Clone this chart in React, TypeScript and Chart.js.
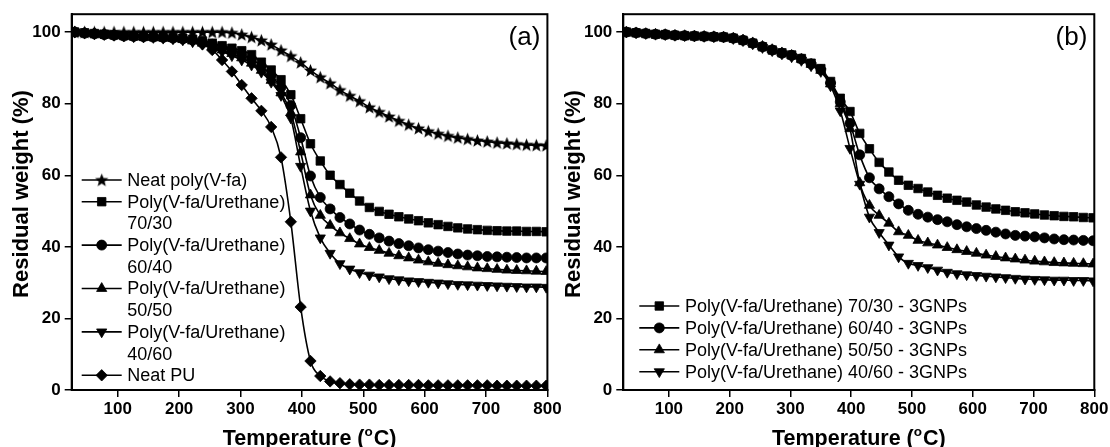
import React, { useEffect, useRef } from "react";
import { Chart, registerables } from "chart.js";
import { drawPoint } from "chart.js/helpers";

Chart.register(...registerables);

const FONT = "'Liberation Sans', Arial, Helvetica, sans-serif";

// ---------------- data ----------------
const TEMPS = [30, 46, 62, 78, 94, 110, 126, 142, 158, 174, 190, 206, 222, 238, 254, 270, 286, 302, 318, 334, 350, 366, 382, 398, 414, 430, 446, 462, 478, 494, 510, 526, 542, 558, 574, 590, 606, 622, 638, 654, 670, 686, 702, 718, 734, 750, 766, 782, 798];

const X_TICKS = [100, 200, 300, 400, 500, 600, 700, 800];
const Y_TICKS = [0, 20, 40, 60, 80, 100];
const X_MIN = 25;
const X_MAX = 800;
const Y_MIN = 0;
const Y_MAX = 105;

// panel (a)
const NEAT_VFA = [100, 100, 100, 100, 100, 100, 100, 100, 100, 100, 100, 100, 100, 100, 100, 100, 99.8, 99.3, 98.6, 97.7, 96.5, 94.9, 93.3, 91.5, 89.3, 87.4, 85.7, 83.8, 82.2, 80.7, 79.0, 77.7, 76.4, 75.2, 74.1, 73.1, 72.3, 71.6, 71.0, 70.5, 70.1, 69.7, 69.4, 69.1, 68.9, 68.7, 68.5, 68.4, 68.3];
const PVU_7030 = [100, 99.8, 99.6, 99.4, 99.2, 99.0, 98.9, 98.8, 98.7, 98.6, 98.5, 98.3, 98.0, 97.5, 96.9, 96.2, 95.5, 94.8, 93.7, 91.6, 89.4, 86.7, 82.5, 75.8, 68.8, 64.0, 60.0, 57.4, 55.0, 52.8, 51.0, 49.9, 49.1, 48.4, 47.8, 47.3, 46.7, 46.2, 45.7, 45.3, 45.0, 44.8, 44.6, 44.5, 44.4, 44.4, 44.3, 44.3, 44.2];
const PVU_6040 = [100, 99.7, 99.5, 99.3, 99.1, 98.9, 98.8, 98.7, 98.6, 98.5, 98.3, 98.1, 97.8, 97.3, 96.6, 95.8, 94.9, 93.9, 92.5, 90.5, 87.8, 84.6, 79.5, 70.5, 59.8, 53.8, 50.6, 48.2, 46.4, 44.7, 43.5, 42.5, 41.6, 40.9, 40.3, 39.7, 39.2, 38.8, 38.4, 38.0, 37.7, 37.5, 37.3, 37.2, 37.1, 37.0, 36.9, 36.9, 36.9];
const PVU_5050 = [100, 99.7, 99.5, 99.3, 99.1, 98.9, 98.7, 98.6, 98.5, 98.4, 98.2, 97.9, 97.5, 96.9, 96.0, 95.0, 94.0, 92.8, 91.3, 89.3, 86.5, 83.0, 77.5, 66.5, 54.5, 48.8, 46.0, 43.9, 42.3, 40.8, 39.8, 39.0, 38.2, 37.5, 36.9, 36.3, 35.8, 35.4, 35.0, 34.7, 34.4, 34.1, 33.9, 33.7, 33.5, 33.4, 33.3, 33.2, 33.1];
const PVU_4060 = [100, 99.7, 99.5, 99.3, 99.1, 98.9, 98.7, 98.6, 98.5, 98.3, 98.1, 97.8, 97.3, 96.6, 95.6, 94.5, 93.4, 92.2, 90.8, 88.8, 86.0, 82.3, 76.0, 62.5, 50.0, 42.5, 38.2, 35.3, 33.8, 32.8, 32.1, 31.6, 31.1, 30.8, 30.5, 30.3, 30.1, 29.9, 29.7, 29.5, 29.4, 29.3, 29.2, 29.1, 29.0, 28.9, 28.8, 28.8, 28.7];
const NEAT_PU = [100, 99.8, 99.6, 99.4, 99.2, 99.0, 98.9, 98.8, 98.7, 98.5, 98.3, 98.0, 97.6, 96.6, 95.0, 92.2, 89.0, 85.2, 81.5, 78.0, 73.5, 65.0, 47.0, 23.2, 8.1, 3.9, 2.4, 1.9, 1.6, 1.5, 1.5, 1.4, 1.4, 1.4, 1.4, 1.4, 1.3, 1.3, 1.3, 1.3, 1.3, 1.3, 1.3, 1.2, 1.2, 1.2, 1.2, 1.2, 1.2];

// panel (b)
const GNP_7030 = [100, 99.8, 99.6, 99.4, 99.3, 99.1, 99.0, 98.9, 98.8, 98.7, 98.6, 98.3, 97.7, 96.9, 95.9, 95.0, 94.2, 93.6, 92.6, 91.3, 89.8, 86.2, 81.5, 77.8, 71.7, 67.4, 63.6, 60.9, 58.6, 57.2, 56.3, 55.3, 54.4, 53.6, 53.0, 52.5, 51.7, 51.1, 50.6, 50.2, 49.8, 49.5, 49.2, 48.9, 48.7, 48.5, 48.4, 48.2, 48.1];
const GNP_6040 = [100, 99.8, 99.6, 99.4, 99.3, 99.1, 99.0, 98.9, 98.8, 98.7, 98.6, 98.3, 97.7, 96.9, 95.9, 95.0, 94.1, 93.5, 92.5, 91.1, 89.5, 85.8, 80.5, 74.5, 65.7, 59.3, 56.2, 54.0, 52.0, 50.2, 49.1, 48.3, 47.6, 47.0, 46.2, 45.6, 45.1, 44.6, 44.1, 43.6, 43.2, 43.0, 42.8, 42.5, 42.2, 42.0, 41.9, 41.8, 41.7];
const GNP_5050 = [100, 99.8, 99.6, 99.4, 99.3, 99.1, 99.0, 98.9, 98.8, 98.7, 98.6, 98.3, 97.8, 97.0, 96.0, 95.1, 94.2, 93.5, 92.4, 91.0, 89.3, 85.5, 80.0, 73.0, 57.9, 51.6, 48.8, 46.6, 44.2, 43.2, 41.8, 41.1, 40.5, 39.8, 39.2, 38.7, 38.2, 37.7, 37.3, 36.9, 36.6, 36.3, 36.0, 35.8, 35.6, 35.5, 35.4, 35.3, 35.2];
const GNP_4060 = [100, 99.8, 99.6, 99.4, 99.3, 99.1, 99.0, 98.9, 98.8, 98.7, 98.6, 98.2, 97.6, 96.7, 95.7, 94.8, 93.9, 93.1, 92.1, 90.6, 89.0, 85.0, 78.0, 67.5, 57.5, 48.3, 44.0, 40.5, 37.2, 35.4, 34.8, 34.2, 33.5, 32.9, 32.5, 32.2, 32.0, 31.8, 31.6, 31.4, 31.2, 31.0, 30.9, 30.8, 30.7, 30.7, 30.6, 30.6, 30.5];

const LABELS_A = [
  ["Neat poly(V-fa)"],
  ["Poly(V-fa/Urethane)", "70/30"],
  ["Poly(V-fa/Urethane)", "60/40"],
  ["Poly(V-fa/Urethane)", "50/50"],
  ["Poly(V-fa/Urethane)", "40/60"],
  ["Neat PU"],
];
const LABELS_B = [
  ["Poly(V-fa/Urethane) 70/30 - 3GNPs"],
  ["Poly(V-fa/Urethane) 60/40 - 3GNPs"],
  ["Poly(V-fa/Urethane) 50/50 - 3GNPs"],
  ["Poly(V-fa/Urethane) 40/60 - 3GNPs"],
];
const Y_TITLE = "Residual weight (%)";

// ---------------- styles ----------------
function makeStar(): HTMLCanvasElement {
  const c = document.createElement("canvas");
  c.width = 15;
  c.height = 15;
  const g = c.getContext("2d")!;
  g.fillStyle = "#000";
  g.beginPath();
  const R = 7, r = 3, cx = 7.5, cy = 8;
  for (let i = 0; i < 10; i++) {
    const ang = -Math.PI / 2 + (i * Math.PI) / 5;
    const rad = i % 2 === 0 ? R : r;
    const px = cx + rad * Math.cos(ang);
    const py = cy + rad * Math.sin(ang);
    if (i === 0) g.moveTo(px, py);
    else g.lineTo(px, py);
  }
  g.closePath();
  g.fill();
  return c;
}

type Marker = { style: any; radius: number; rotation: number };
const STAR = makeStar();
const M_STAR: Marker = { style: STAR, radius: 7, rotation: 0 };
const M_SQUARE: Marker = { style: "rect", radius: 6, rotation: 0 };
const M_CIRCLE: Marker = { style: "circle", radius: 5, rotation: 0 };
const M_UP: Marker = { style: "triangle", radius: 5.9, rotation: 0 };
const M_DOWN: Marker = { style: "triangle", radius: 5.9, rotation: 180 };
const M_DIAMOND: Marker = { style: "rectRot", radius: 5.7, rotation: 0 };

type PanelSpec = {
  canvasLeft: number;
  canvasW: number;
  plotLeft: number;
  plotRight: number;
  letter: string;
  series: number[][];
  labels: string[][];
  markers: Marker[];
  legendX: number;
  legendY: number;
  legendStep: number;
};

const PANEL_A: PanelSpec = {
  canvasLeft: 0,
  canvasW: 570,
  plotLeft: 71.7,
  plotRight: 547.4,
  letter: "(a)",
  series: [NEAT_VFA, PVU_7030, PVU_6040, PVU_5050, PVU_4060, NEAT_PU],
  labels: LABELS_A,
  markers: [M_STAR, M_SQUARE, M_CIRCLE, M_UP, M_DOWN, M_DIAMOND],
  legendX: 81.7,
  legendY: 180,
  legendStep: 21.7,
};

const PANEL_B: PanelSpec = {
  canvasLeft: 555,
  canvasW: 555,
  plotLeft: 68.3,
  plotRight: 539.3,
  letter: "(b)",
  series: [GNP_7030, GNP_6040, GNP_5050, GNP_4060],
  labels: LABELS_B,
  markers: [M_SQUARE, M_CIRCLE, M_UP, M_DOWN],
  legendX: 84.3,
  legendY: 306,
  legendStep: 21.9,
};

const PLOT_TOP = 12.3;
const PLOT_BOTTOM = 390;
const H = 447;

function buildConfig(spec: PanelSpec): any {
  const decor = {
    id: "decor",
    afterDraw(chart: any) {
      const { ctx, chartArea: a } = chart;
      ctx.save();
      ctx.strokeStyle = "#000";
      ctx.lineWidth = 2;
      ctx.strokeRect(a.left, a.top, a.right - a.left, a.bottom - a.top);

      ctx.fillStyle = "#000";
      ctx.font = `26px ${FONT}`;
      ctx.textAlign = "right";
      ctx.textBaseline = "middle";
      ctx.fillText(spec.letter, a.right - 7, 38);

      // y title
      ctx.save();
      ctx.translate(a.left - 49.5, 194);
      ctx.rotate(-Math.PI / 2);
      ctx.font = `bold 22px ${FONT}`;
      ctx.textAlign = "center";
      ctx.textBaseline = "middle";
      ctx.fillText(Y_TITLE, 0, 0);
      ctx.restore();

      // x title with superscript
      const big = `bold 21.5px ${FONT}`;
      const small = `bold 13.5px ${FONT}`;
      ctx.font = big;
      const p1 = "Temperature (";
      const p3 = "C)";
      const w1 = ctx.measureText(p1).width;
      const w3 = ctx.measureText(p3).width;
      ctx.font = small;
      const w2 = ctx.measureText("o").width + 1;
      let x = (a.left + a.right) / 2 - (w1 + w2 + w3) / 2;
      const y = 444.5;
      ctx.textAlign = "left";
      ctx.textBaseline = "alphabetic";
      ctx.font = big;
      ctx.fillText(p1, x, y);
      x += w1;
      ctx.font = small;
      ctx.fillText("o", x, y - 8.5);
      x += w2;
      ctx.font = big;
      ctx.fillText(p3, x, y);

      // legend
      ctx.font = `18px ${FONT}`;
      ctx.textAlign = "left";
      ctx.textBaseline = "middle";
      let row = 0;
      spec.labels.forEach((lines, i) => {
        const yy = spec.legendY + row * spec.legendStep;
        ctx.strokeStyle = "#000";
        ctx.lineWidth = 1.6;
        ctx.beginPath();
        ctx.moveTo(spec.legendX, yy);
        ctx.lineTo(spec.legendX + 40, yy);
        ctx.stroke();
        const m = spec.markers[i];
        ctx.fillStyle = "#000";
        ctx.lineWidth = 0.8;
        drawPoint(ctx, { pointStyle: m.style, rotation: m.rotation, radius: m.radius, borderWidth: 0.8 } as any, spec.legendX + 20, yy);
        ctx.fillStyle = "#000";
        lines.forEach((t, k) => {
          ctx.fillText(t, spec.legendX + 45.6, yy + k * spec.legendStep + 1);
        });
        row += lines.length;
      });
      ctx.restore();
    },
  };

  const tickFont = { family: FONT, size: 17, weight: "bold" as const };
  const grid = {
    display: true,
    drawOnChartArea: false,
    drawTicks: true,
    tickLength: 7,
    color: "#000",
    lineWidth: 1.5,
  };
  const border = { display: true, color: "#000", width: 2 };

  return {
    type: "line",
    data: {
      datasets: spec.series.map((vals, i) => ({
        label: spec.labels[i].join(" "),
        data: TEMPS.map((t, j) => ({ x: t, y: vals[j] })),
        borderColor: "#000",
        backgroundColor: "#000",
        borderWidth: 1.6,
        pointStyle: spec.markers[i].style,
        pointRadius: spec.markers[i].radius,
        pointRotation: spec.markers[i].rotation,
        pointBackgroundColor: "#000",
        pointBorderColor: "#000",
        pointBorderWidth: 0.8,
        cubicInterpolationMode: "monotone",
        fill: false,
      })),
    },
    options: {
      animation: false,
      responsive: false,
      maintainAspectRatio: false,
      events: [],
      layout: {
        padding: { left: 0, right: spec.canvasW - spec.plotRight, top: PLOT_TOP, bottom: 0 },
      },
      plugins: {
        legend: { display: false },
        tooltip: { enabled: false },
        title: { display: false },
      },
      scales: {
        x: {
          type: "linear",
          min: X_MIN,
          max: X_MAX,
          afterBuildTicks: (s: any) => {
            s.ticks = X_TICKS.map((v) => ({ value: v }));
          },
          afterFit: (s: any) => {
            s.height = H - PLOT_BOTTOM;
            s.paddingLeft = 0;
            s.paddingRight = 0;
          },
          ticks: { font: tickFont, color: "#000", padding: 2, maxRotation: 0, autoSkip: false },
          grid,
          border,
        },
        y: {
          type: "linear",
          min: Y_MIN,
          max: Y_MAX,
          afterBuildTicks: (s: any) => {
            s.ticks = Y_TICKS.map((v) => ({ value: v }));
          },
          afterFit: (s: any) => {
            s.width = spec.plotLeft;
          },
          ticks: { font: tickFont, color: "#000", padding: 4, autoSkip: false },
          grid,
          border,
        },
      },
    },
    plugins: [decor],
  };
}

function Panel({ spec }: { spec: PanelSpec }) {
  const ref = useRef<HTMLCanvasElement>(null);
  useEffect(() => {
    const chart = new Chart(ref.current!, buildConfig(spec));
    return () => chart.destroy();
  }, [spec]);
  return (
    <canvas
      ref={ref}
      width={spec.canvasW}
      height={H}
      style={{ position: "absolute", left: spec.canvasLeft, top: 0, width: spec.canvasW, height: H }}
    />
  );
}

export default function App() {
  return (
    <div
      style={{
        position: "fixed",
        left: 0,
        top: 0,
        width: 1110,
        height: H,
        background: "#fff",
        overflow: "hidden",
      }}
    >
      <Panel spec={PANEL_A} />
      <Panel spec={PANEL_B} />
    </div>
  );
}
